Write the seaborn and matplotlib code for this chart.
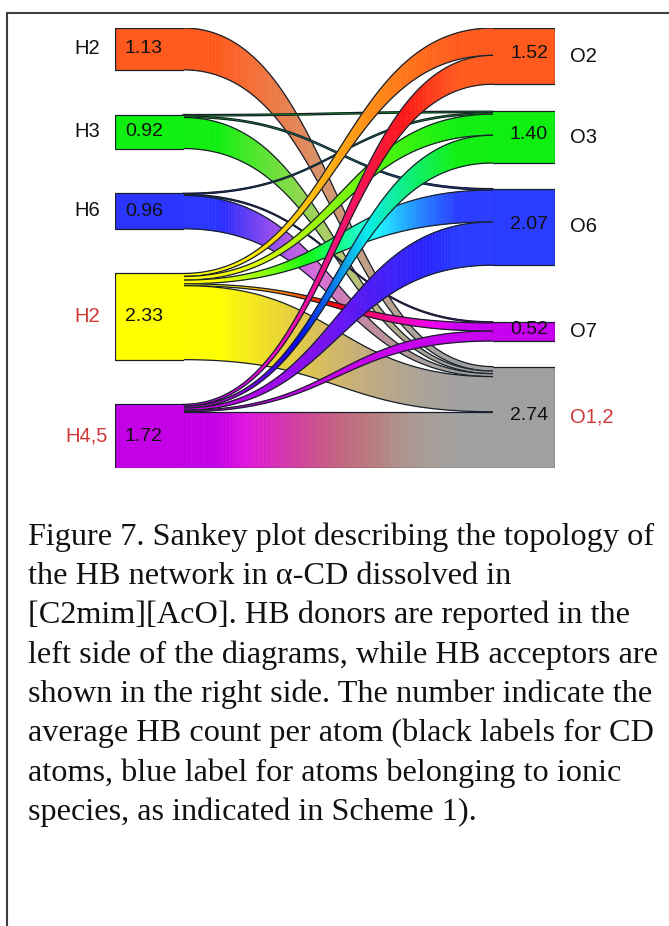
import colorsys
import numpy as np
import matplotlib
matplotlib.use("Agg")
import matplotlib.pyplot as plt
import matplotlib.colors as mcolors
from matplotlib.collections import PolyCollection
from matplotlib.lines import Line2D
import seaborn as sns

# --- data -----------------------------------------------------------------
donors = ["H2", "H3", "H6", "H2", "H4,5"]
donor_values = [1.13, 0.92, 0.96, 2.33, 1.72]
donor_colors = ["#ff5a1e", "#10f010", "#2a35ff", "#ffff00", "#c400e6"]
donor_ionic = [False, False, False, True, True]

acceptors = ["O2", "O3", "O6", "O7", "O1,2"]
acceptor_values = [1.52, 1.40, 2.07, 0.52, 2.74]
acceptor_colors = ["#ff5a1e", "#10f010", "#2a3cff", "#c800f0", "#a0a0a0"]
acceptor_ionic = [False, False, False, False, True]

# width of each link at the donor end (rows: donors, cols: acceptors)
donor_side = np.array([
    [0.00, 0.00, 0.00, 0.00, 1.13],
    [0.00, 0.04, 0.04, 0.00, 0.84],
    [0.00, 0.03, 0.00, 0.03, 0.90],
    [0.08, 0.10, 0.10, 0.05, 2.00],
    [0.05, 0.05, 0.06, 0.04, 1.52],
])
# width of each link at the acceptor end
acceptor_side = np.array([
    [0.00, 0.00, 0.00, 0.00, 0.12],
    [0.00, 0.04, 0.04, 0.00, 0.07],
    [0.00, 0.04, 0.00, 0.03, 0.08],
    [0.74, 0.57, 0.86, 0.22, 0.95],
    [0.78, 0.75, 1.17, 0.27, 1.52],
])

caption = [
    "Figure 7. Sankey plot describing the topology of",
    "the HB network in \u03b1-CD dissolved in",
    "[C2mim][AcO]. HB donors are reported in the",
    "left side of the diagrams, while HB acceptors are",
    "shown in the right side. The number indicate the",
    "average HB count per atom (black labels for CD",
    "atoms, blue label for atoms belonging to ionic",
    "species, as indicated in Scheme 1).",
]

# --- style ----------------------------------------------------------------
sns.set_theme(style="white")
plt.rcParams["font.family"] = ["Liberation Sans", "DejaVu Sans"]

W, H = 669, 926
PX_PER_UNIT = 37.0
SPAN = 440 / PX_PER_UNIT
EDGE = "#18212b"
RED = "#d03838"

fig = plt.figure(figsize=(W / 100, H / 100), dpi=100)
ax = fig.add_axes([115 / W, 1 - 468 / H, 440 / W, 440 / H])
ax.set_xlim(0, 440)
ax.set_ylim(SPAN, 0)
ax.axis("off")

XL0, XL1 = 0, 68       # left node
XR0, XR1 = 378, 440    # right node


def stack(values, gap_weights):
    gaps = np.array(gap_weights, float)
    gaps = gaps / gaps.sum() * (SPAN - sum(values))
    tops, y = [], 0.0
    for i, v in enumerate(values):
        tops.append(y)
        y += v + (gaps[i] if i < len(gaps) else 0)
    return tops


left_tops = stack(donor_values, [1, 1, 1, 1])
right_tops = stack(acceptor_values, [1, 0.95, 2.1, 0.95])


def hsv_of(c):
    r, g, b = mcolors.to_rgb(c)
    h, s, v = colorsys.rgb_to_hsv(r, g, b)
    if s < 0.05:
        h = 30 / 360
    return h, s, v


def blend(c0, c1, u):
    h0, s0, v0 = hsv_of(c0)
    h1, s1, v1 = hsv_of(c1)
    dh = ((h1 - h0 + 0.5) % 1) - 0.5
    return colorsys.hsv_to_rgb((h0 + dh * u) % 1, s0 + (s1 - s0) * u, v0 + (v1 - v0) * u)


t = np.linspace(0, 1, 120)
bx = XL1 + (XR0 - XL1) * (1.5 * t * (1 - t) + t ** 3)
bs = 3 * t ** 2 - 2 * t ** 3

# link offsets at both ends
left_off = list(left_tops)
right_off = list(right_tops)
ends = {}
for i in range(len(donors)):
    for j in range(len(acceptors)):
        if donor_side[i, j] > 0:
            ends[(i, j)] = [left_off[i], left_off[i] + donor_side[i, j]]
            left_off[i] += donor_side[i, j]
for j in range(len(acceptors)):
    for i in range(len(donors)):
        if acceptor_side[i, j] > 0:
            ends[(i, j)] += [right_off[j], right_off[j] + acceptor_side[i, j]]
            right_off[j] += acceptor_side[i, j]

z = 2
for i in range(len(donors)):
    for j in range(len(acceptors)):
        if (i, j) not in ends:
            continue
        l0, l1, r0, r1 = ends[(i, j)]
        top = l0 + (r0 - l0) * bs
        bot = l1 + (r1 - l1) * bs
        quads, cols = [], []
        for k in range(len(t) - 1):
            quads.append([(bx[k], top[k]), (bx[k + 1], top[k + 1]),
                          (bx[k + 1], bot[k + 1]), (bx[k], bot[k])])
            u = np.clip((0.5 * (t[k] + t[k + 1]) - 0.08) / 0.84, 0, 1)
            cols.append(blend(donor_colors[i], acceptor_colors[j], u))
        pc = PolyCollection(quads, facecolors=cols, edgecolors=cols, linewidths=0.4, zorder=z)
        ax.add_collection(pc)
        ax.plot(bx, top, color=EDGE, lw=0.9, zorder=z + 0.1)
        ax.plot(bx, bot, color=EDGE, lw=0.9, zorder=z + 0.1)
        z += 0.2

# nodes
for i, name in enumerate(donors):
    y0, y1 = left_tops[i], left_tops[i] + donor_values[i]
    ax.fill_between([XL0, XL1 + 0.5], y0, y1, color=donor_colors[i], lw=0, zorder=20)
    ax.plot([XL1, XL0, XL0, XL1], [y0, y0, y1, y1], color=EDGE, lw=0.9, zorder=21)
    ax.text(XL0 + 10, (y0 + y1) / 2, f"{donor_values[i]:.2f}", fontsize=14,
            ha="left", va="center", color="#111111", zorder=22)
    ax.text(XL0 - 28, (y0 + y1) / 2, name, fontsize=14.5, ha="center", va="center",
            color=RED if donor_ionic[i] else "#111111", clip_on=False)

for j, name in enumerate(acceptors):
    y0, y1 = right_tops[j], right_tops[j] + acceptor_values[j]
    ax.fill_between([XR0 - 0.5, XR1], y0, y1, color=acceptor_colors[j], lw=0, zorder=20)
    ax.plot([XR0, XR1, XR1, XR0], [y0, y0, y1, y1], color=EDGE, lw=0.9, zorder=21)
    ax.text(XR1 - 7, (y0 + y1) / 2 - 0.06, f"{acceptor_values[j]:.2f}", fontsize=14,
            ha="right", va="center", color="#111111", zorder=22)
    ax.text(XR1 + 15, (y0 + y1) / 2, name, fontsize=14.5, ha="left", va="center",
            color=RED if acceptor_ionic[j] else "#111111", clip_on=False)

# frame lines of the figure panel
fig.add_artist(Line2D([7 / W, 1], [1 - 13 / H, 1 - 13 / H], transform=fig.transFigure,
                      color="#404040", lw=1.5))
fig.add_artist(Line2D([7 / W, 7 / W], [0, 1 - 13 / H], transform=fig.transFigure,
                      color="#404040", lw=1.5))

# caption
for k, line in enumerate(caption):
    fig.text(28 / W, 1 - (537 + 39.3 * k) / H, line, fontsize=23.2,
             family=["Liberation Serif", "DejaVu Serif"], ha="left", va="center",
             color="#111111")

fig.savefig("out.png", dpi=100, facecolor="white")
